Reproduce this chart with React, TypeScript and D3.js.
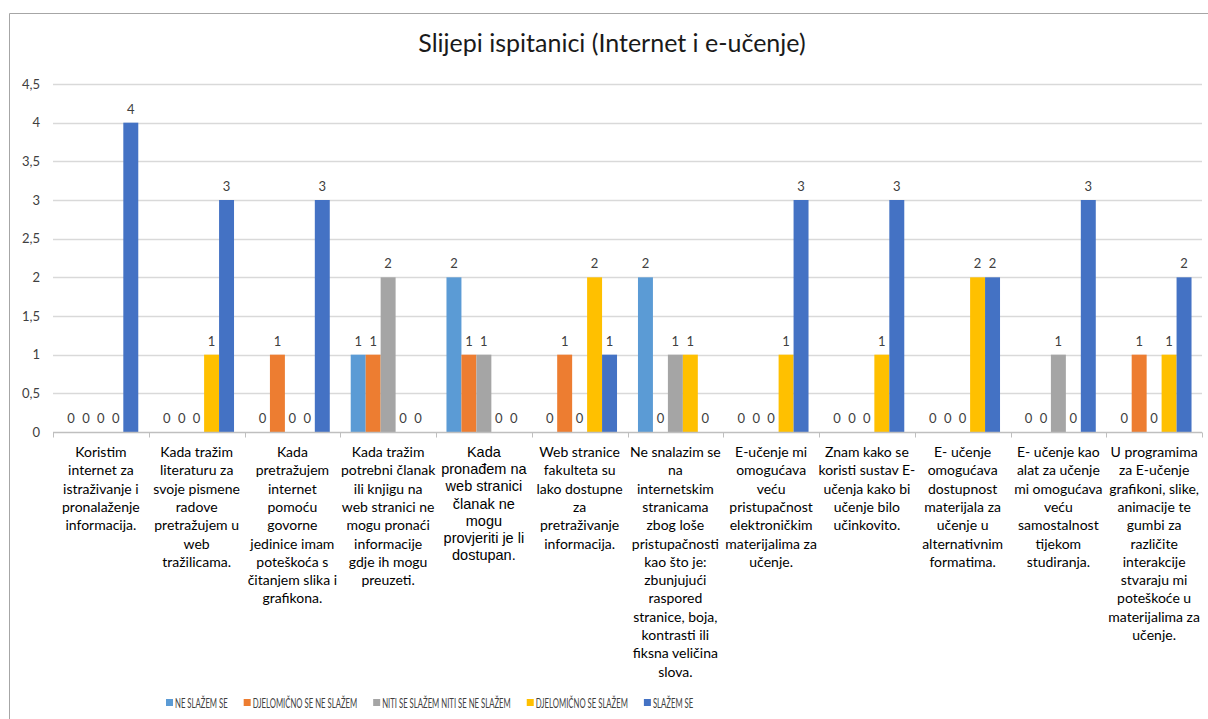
import React, { useEffect, useRef } from "react";
import * as d3 from "d3";

const categories = [
  "Koristim\ninternet za\nistraživanje i\npronalaženje\ninformacija.",
  "Kada tražim\nliteraturu za\nsvoje pismene\nradove\npretražujem u\nweb\ntražilicama.",
  "Kada\npretražujem\ninternet\npomoću\ngovorne\njedinice imam\npoteškoća s\nčitanjem slika i\ngrafikona.",
  "Kada tražim\npotrebni članak\nili knjigu na\nweb stranici ne\nmogu pronaći\ninformacije\ngdje ih mogu\npreuzeti.",
  "Kada\npronađem na\nweb stranici\nčlanak ne\nmogu\nprovjeriti je li\ndostupan.",
  "Web stranice\nfakulteta su\nlako dostupne\nza\npretraživanje\ninformacija.",
  "Ne snalazim se\nna\ninternetskim\nstranicama\nzbog loše\npristupačnosti\nkao što je:\nzbunjujući\nraspored\nstranice, boja,\nkontrasti ili\nfiksna veličina\nslova.",
  "E-učenje mi\nomogućava\nveću\npristupačnost\nelektroničkim\nmaterijalima za\nučenje.",
  "Znam kako se\nkoristi sustav E-\nučenja kako bi\nučenje bilo\nučinkovito.",
  "E- učenje\nomogućava\ndostupnost\nmaterijala za\nučenje u\nalternativnim\nformatima.",
  "E- učenje kao\nalat za učenje\nmi omogućava\nveću\nsamostalnost\ntijekom\nstudiranja.",
  "U programima\nza E-učenje\ngrafikoni, slike,\nanimacije te\ngumbi za\nrazličite\ninterakcije\nstvaraju mi\npoteškoće u\nmaterijalima za\nučenje.",
];

const seriesNames = [
  "NE SLAŽEM SE",
  "DJELOMIČNO SE NE SLAŽEM",
  "NITI SE SLAŽEM NITI SE NE SLAŽEM",
  "DJELOMIČNO SE SLAŽEM",
  "SLAŽEM SE",
];
const seriesColors = ["#5b9bd5", "#ed7d31", "#a5a5a5", "#ffc000", "#4472c4"];

const neSlazem = [0, 0, 0, 1, 2, 0, 2, 0, 0, 0, 0, 0];
const djelomicnoNe = [0, 0, 1, 1, 1, 1, 0, 0, 0, 0, 0, 1];
const niti = [0, 0, 0, 2, 1, 0, 1, 0, 0, 0, 1, 0];
const djelomicnoDa = [0, 1, 0, 0, 0, 2, 1, 1, 1, 2, 0, 1];
const slazem = [4, 3, 3, 0, 0, 1, 0, 3, 3, 2, 3, 2];
const seriesValues = [neSlazem, djelomicnoNe, niti, djelomicnoDa, slazem];

const yTicks = [0, 0.5, 1, 1.5, 2, 2.5, 3, 3.5, 4, 4.5];
const title = "Slijepi ispitanici (Internet i e-učenje)";

const W = 1208;
const H = 719;
const calibri = "Lato, 'Open Sans', sans-serif";

const App = () => {
  const svgRef = useRef<SVGSVGElement>(null);

  useEffect(() => {
    document.body.style.margin = "0";
    const margin = { top: 84, left: 53, right: 6, bottom: 287 };
    const svg = d3.select(svgRef.current);
    svg.selectAll("*").remove();

    // chart border (cropped on right/bottom)
    svg.append("line").attr("x1", 9.5).attr("x2", W).attr("y1", 13.5).attr("y2", 13.5)
      .attr("stroke", "#a6a6a6").attr("stroke-width", 1);
    svg.append("line").attr("x1", 9.5).attr("x2", 9.5).attr("y1", 13.5).attr("y2", H)
      .attr("stroke", "#a6a6a6").attr("stroke-width", 1);

    svg.append("text").attr("x", 612).attr("y", 52).attr("text-anchor", "middle")
      .attr("font-family", calibri).attr("font-size", 25).attr("fill", "#1a1a1a")
      .text(title);

    const x0 = d3.scaleBand<number>()
      .domain(d3.range(categories.length))
      .range([margin.left, W - margin.right])
      .padding(0);
    const x1 = d3.scaleBand<number>()
      .domain(d3.range(seriesNames.length))
      .range([0, x0.bandwidth()])
      .paddingInner(0)
      .paddingOuter(0.7);
    const y = d3.scaleLinear().domain([0, 4.5]).range([H - margin.bottom, margin.top]);

    // gridlines
    svg.append("g").selectAll("line").data(yTicks.filter((t) => t > 0)).join("line")
      .attr("x1", margin.left).attr("x2", W - margin.right)
      .attr("y1", (d) => Math.round(y(d)) + 0.5).attr("y2", (d) => Math.round(y(d)) + 0.5)
      .attr("stroke", "#d9d9d9").attr("stroke-width", 1.5);

    // y axis labels
    svg.append("g").selectAll("text").data(yTicks).join("text")
      .attr("x", 40).attr("y", (d) => y(d)).attr("dy", "0.35em")
      .attr("text-anchor", "end").attr("font-family", calibri).attr("font-size", 13)
      .attr("fill", "#404040")
      .text((d) => String(d).replace(".", ","));

    // bars
    const g = svg.append("g").selectAll("g").data(categories.map((_, i) => i)).join("g")
      .attr("transform", (i) => `translate(${x0(i)},0)`);
    g.selectAll("rect").data((i) => seriesValues.map((vals, s) => ({ s, v: vals[i] })))
      .join("rect")
      .attr("x", (d) => x1(d.s)!)
      .attr("width", x1.bandwidth())
      .attr("y", (d) => y(d.v))
      .attr("height", (d) => y(0) - y(d.v))
      .attr("fill", (d) => seriesColors[d.s]);
    g.selectAll("text").data((i) => seriesValues.map((vals, s) => ({ s, v: vals[i] })))
      .join("text")
      .attr("x", (d) => x1(d.s)! + x1.bandwidth() / 2)
      .attr("y", (d) => y(d.v) - 9)
      .attr("text-anchor", "middle").attr("font-family", calibri).attr("font-size", 13)
      .attr("fill", "#404040")
      .text((d) => d.v);

    // x axis line and ticks
    const y0 = Math.round(y(0)) + 0.5;
    svg.append("line").attr("x1", margin.left).attr("x2", W - margin.right)
      .attr("y1", y0).attr("y2", y0).attr("stroke", "#bfbfbf").attr("stroke-width", 1.5);
    svg.append("g").selectAll("line").data(d3.range(categories.length + 1)).join("line")
      .attr("x1", (i) => Math.round(margin.left + i * x0.step()) + 0.5)
      .attr("x2", (i) => Math.round(margin.left + i * x0.step()) + 0.5)
      .attr("y1", y0).attr("y2", y0 + 5).attr("stroke", "#bfbfbf");

    // category labels
    const cl = svg.append("g").selectAll("text").data(categories).join("text")
      .attr("text-anchor", "middle")
      .attr("font-family", (_, i) => (i === 4 ? "'Liberation Sans', Arial, sans-serif" : calibri))
      .attr("font-size", (_, i) => (i === 4 ? 14.5 : 14))
      .attr("fill", "#000");
    cl.each(function (d, i) {
      const t = d3.select(this);
      const lh = i === 4 ? 17.2 : 18.3;
      d.split("\n").forEach((line, k) => {
        t.append("tspan")
          .attr("x", x0(i)! + x0.bandwidth() / 2)
          .attr("y", 457 + k * lh)
          .text(line);
      });
    });

    // legend (horizontally squeezed text, like the original narrow font)
    const squeeze = 0.62;
    const leg = svg.append("g").attr("font-family", calibri)
      .attr("font-size", 12.5).attr("fill", "#404040");
    let lx = 166;
    seriesNames.forEach((name, s) => {
      leg.append("rect").attr("x", lx).attr("y", 699).attr("width", 7).attr("height", 7)
        .attr("fill", seriesColors[s]);
      const tg = leg.append("g").attr("transform", `translate(${lx + 9},708) scale(${squeeze},1)`);
      const tx = tg.append("text").attr("x", 0).attr("y", 0).text(name);
      const w = (tx.node() as SVGTextElement).getComputedTextLength() * squeeze;
      lx += 9 + w + 16;
    });
  }, []);

  return (
    <svg
      ref={svgRef}
      width={W}
      height={H}
      style={{ position: "absolute", left: 0, top: 0, display: "block", background: "#fff" }}
    />
  );
};

export default App;
